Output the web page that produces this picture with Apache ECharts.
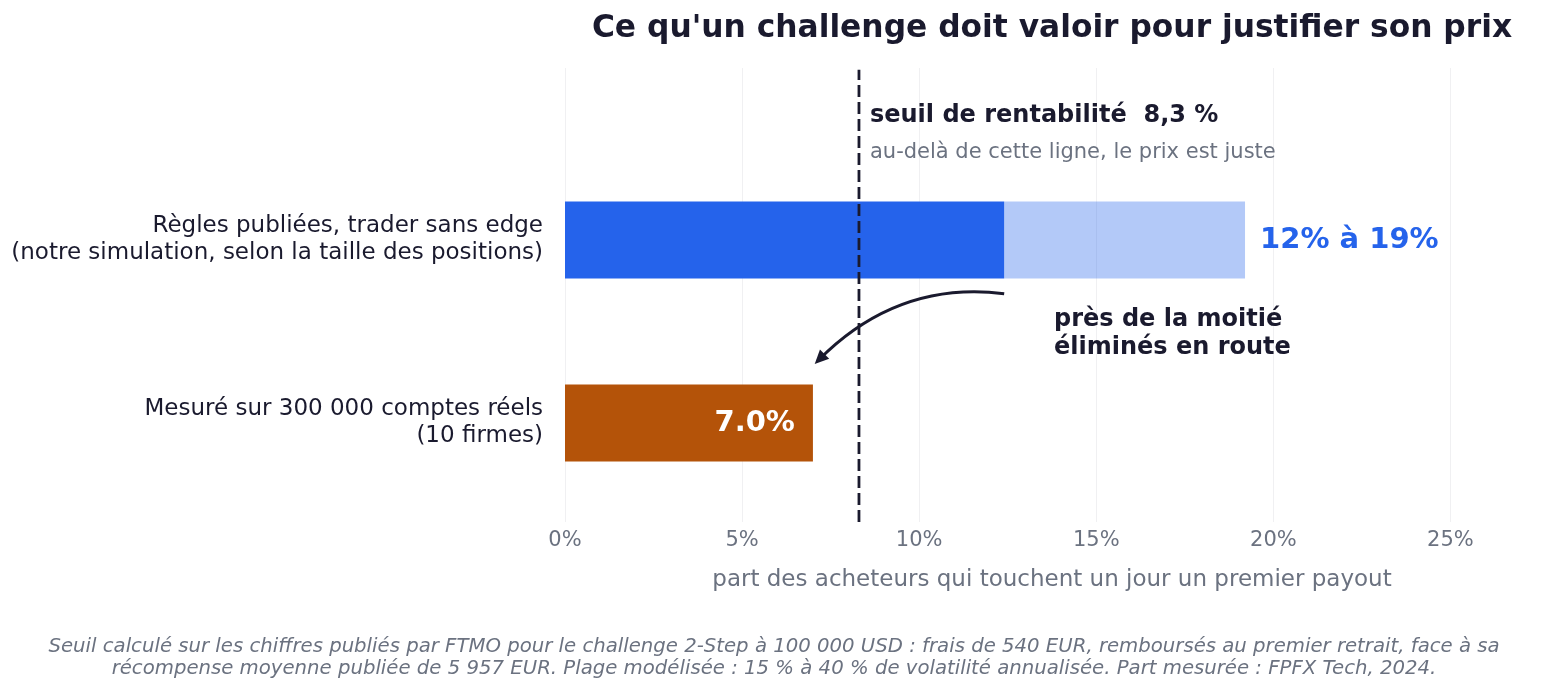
<!DOCTYPE html>
<html>
<head>
<meta charset="utf-8">
<script src="https://cdn.jsdelivr.net/npm/echarts@6/dist/echarts.min.js"></script>
<style>
  html, body { margin: 0; padding: 0; background: #fff; }
  #chart { width: 1554px; height: 694px; }
</style>
</head>
<body>
<div id="chart"></div>
<script>
// donnees
var categories = [
    'Règles publiées, trader sans edge\n(notre simulation, selon la taille des positions)',
    'Mesuré sur 300 000 comptes réels\n(10 firmes)'
];
var valeursBasses = [12.4, 7.0];
var valeursHautes = [19.2, null];
var seuil = 8.3;
var ticksX = [0, 5, 10, 15, 20, 25];
var xMax = 27.5;

var FONT = 'DejaVu Sans';
var DARK = '#1a1a2e';
var GREY = '#6b7280';
var BLUE = '#2563eb';
var ORANGE = '#b45309';

var chart = echarts.init(document.getElementById('chart'));

var basData = valeursBasses.map(function (v, i) {
    if (i === 0) return { value: v, itemStyle: { color: BLUE } };
    return {
        value: v,
        itemStyle: { color: ORANGE },
        label: {
            show: true, position: 'insideRight', distance: 18,
            formatter: v.toFixed(1) + '%',
            color: '#fff', fontFamily: FONT, fontWeight: 'bold', fontSize: 29
        }
    };
});
var hautData = valeursHautes.map(function (v, i) {
    return v == null ? '-' : +(v - valeursBasses[i]).toFixed(2);
});

var option = {
    backgroundColor: '#fff',
    animation: false,
    grid: [
        { left: 565, right: 15, top: 148.5, bottom: 179.5 },
        { left: 565, right: 15, top: 68, bottom: 172 }
    ],
    xAxis: [
        { gridIndex: 0, type: 'value', min: 0, max: xMax, show: false },
        {
            gridIndex: 1, type: 'value', min: ticksX[0], max: xMax, interval: 5,
            axisLine: { show: false }, axisTick: { show: false },
            splitLine: { show: true, showMaxLine: false, lineStyle: { color: '#f0f0f2', width: 1 } },
            axisLabel: {
                formatter: function (v) { return ticksX.indexOf(v) >= 0 ? v + '%' : ''; },
                showMaxLabel: false,
                color: GREY, fontFamily: FONT, fontSize: 21, margin: 8
            },
            name: 'part des acheteurs qui touchent un jour un premier payout',
            nameLocation: 'middle', nameGap: 47,
            nameTextStyle: { color: GREY, fontFamily: FONT, fontSize: 23 }
        }
    ],
    yAxis: [
        {
            gridIndex: 0, type: 'category', data: categories, inverse: true,
            axisLine: { show: false }, axisTick: { show: false },
            axisLabel: {
                color: DARK, fontFamily: FONT, fontSize: 23, lineHeight: 27,
                margin: 22, align: 'right', padding: [10, 0, 0, 0]
            }
        },
        { gridIndex: 1, type: 'value', min: -0.54, max: 1.94, show: false }
    ],
    series: [
        {
            type: 'bar', stack: 'a', xAxisIndex: 0, yAxisIndex: 0,
            barWidth: 77, data: basData
        },
        {
            type: 'bar', stack: 'a', xAxisIndex: 0, yAxisIndex: 0,
            barWidth: 77, data: hautData,
            itemStyle: { color: 'rgba(37,99,235,0.35)' },
            label: {
                show: true, position: 'right', distance: 15,
                formatter: '12% à 19%',
                color: BLUE, fontFamily: FONT, fontWeight: 'bold', fontSize: 29
            }
        },
        {
            type: 'line', xAxisIndex: 1, yAxisIndex: 1, symbol: 'none',
            data: [[seuil, -0.54], [seuil, 1.93]],
            lineStyle: { color: DARK, width: 2.8, type: [12, 5] },
            z: 5
        }
    ]
};
chart.setOption(option);

// annotations, placees via les axes de la grille 1
var toPx = function (x, y) {
    return chart.convertToPixel({ xAxisIndex: 1, yAxisIndex: 1 }, [x, y]);
};
var pSeuil = toPx(seuil, 0);
var S = toPx(valeursBasses[0], 0.707);
var E = toPx(7.05, 0.323);
var C = toPx(9.4, 0.78);
var dx = E[0] - C[0], dy = E[1] - C[1];
var len = Math.sqrt(dx * dx + dy * dy);
dx /= len; dy /= len;
var hl = 14, hw = 6.5;
var bx = E[0] - dx * hl, by = E[1] - dy * hl;
var head = [[E[0], E[1]], [bx + dy * hw, by - dx * hw], [bx - dy * hw, by + dx * hw]];

chart.setOption({
    graphic: [
        {
            type: 'text', x: 1052, y: 29,
            style: {
                text: "Ce qu'un challenge doit valoir pour justifier son prix",
                fill: DARK, font: 'bold 31.3px "DejaVu Sans"',
                textAlign: 'center', textVerticalAlign: 'middle'
            }
        },
        {
            type: 'text', x: pSeuil[0] + 11, y: 116,
            style: {
                text: 'seuil de rentabilité  8,3 %', fill: DARK,
                font: 'bold 24px "DejaVu Sans"', textVerticalAlign: 'middle'
            }
        },
        {
            type: 'text', x: pSeuil[0] + 11, y: 153,
            style: {
                text: 'au-delà de cette ligne, le prix est juste', fill: GREY,
                font: '21px "DejaVu Sans"', textVerticalAlign: 'middle'
            }
        },
        {
            type: 'text', x: 1054, y: 334,
            style: {
                text: 'près de la moitié\néliminés en route', fill: DARK,
                font: 'bold 24px "DejaVu Sans"', lineHeight: 28,
                textVerticalAlign: 'middle'
            }
        },
        {
            type: 'bezierCurve',
            shape: { x1: S[0], y1: S[1], x2: E[0] - dx * 6, y2: E[1] - dy * 6, cpx1: C[0], cpy1: C[1] },
            style: { stroke: DARK, lineWidth: 3, fill: null }
        },
        {
            type: 'polygon',
            shape: { points: head },
            style: { fill: DARK }
        },
        {
            type: 'text', x: 774, y: 658,
            style: {
                text: 'Seuil calculé sur les chiffres publiés par FTMO pour le challenge 2-Step à 100 000 USD : frais de 540 EUR, remboursés au premier retrait, face à sa\nrécompense moyenne publiée de 5 957 EUR. Plage modélisée : 15 % à 40 % de volatilité annualisée. Part mesurée : FPFX Tech, 2024.',
                fill: GREY, font: 'italic 19.7px "DejaVu Sans"', lineHeight: 22,
                textAlign: 'center', textVerticalAlign: 'middle'
            }
        }
    ]
});
</script>
</body>
</html>
